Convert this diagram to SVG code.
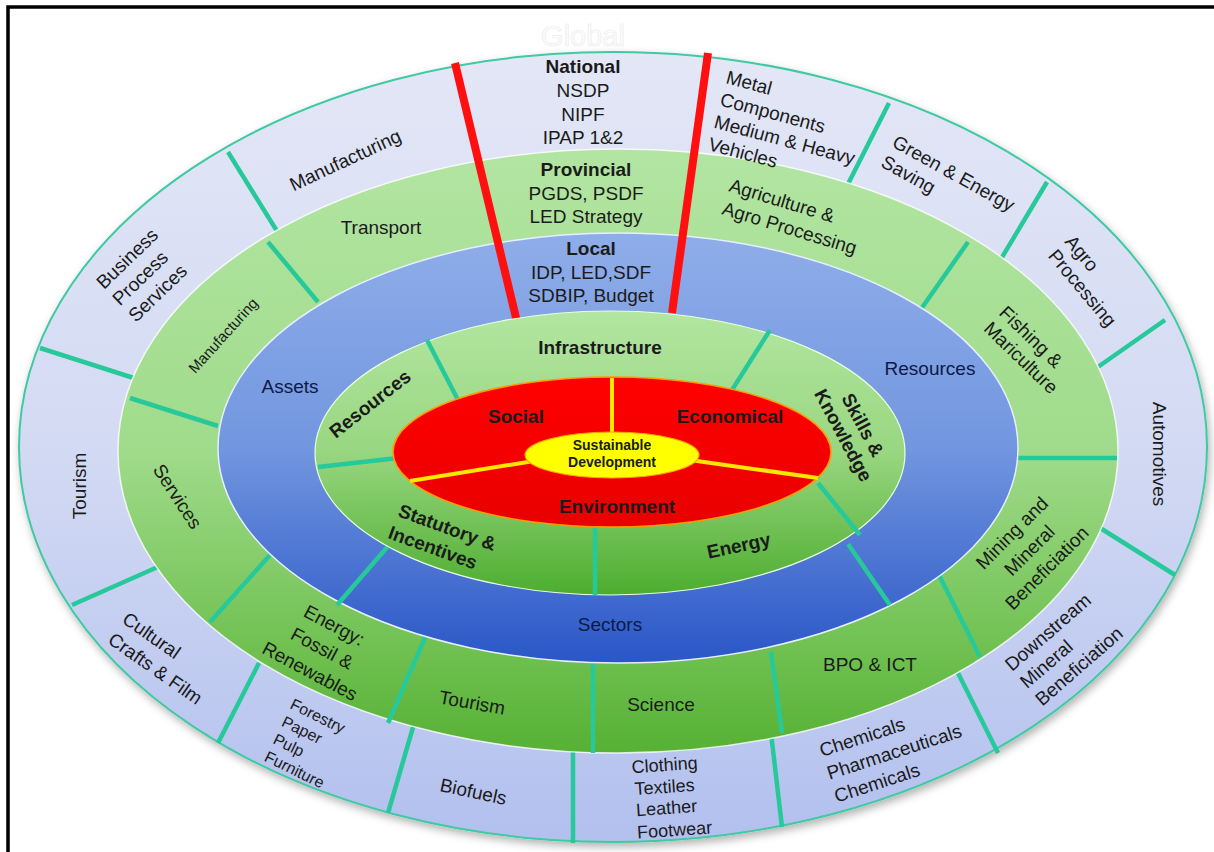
<svg xmlns="http://www.w3.org/2000/svg" width="1214" height="852" viewBox="0 0 1214 852">
<defs>
<linearGradient id="gOuter" x1="0" y1="0" x2="0" y2="1"><stop offset="0" stop-color="#e3e7f6"/><stop offset="0.5" stop-color="#d3daf3"/><stop offset="1" stop-color="#b2c0ee"/></linearGradient>
<linearGradient id="gGreen" x1="0" y1="0" x2="0" y2="1"><stop offset="0" stop-color="#b2e5a2"/><stop offset="0.5" stop-color="#a0db8b"/><stop offset="0.8" stop-color="#74c356"/><stop offset="1" stop-color="#56b134"/></linearGradient>
<linearGradient id="gBlue" x1="0" y1="0" x2="0" y2="1"><stop offset="0" stop-color="#8fade9"/><stop offset="0.5" stop-color="#7296df"/><stop offset="1" stop-color="#2a56c7"/></linearGradient>
<linearGradient id="gInner" x1="0" y1="0" x2="0" y2="1"><stop offset="0" stop-color="#b3e6a1"/><stop offset="0.5" stop-color="#98d680"/><stop offset="1" stop-color="#4dad2f"/></linearGradient>
<linearGradient id="gRed" x1="0" y1="0" x2="0" y2="1"><stop offset="0" stop-color="#ff0000"/><stop offset="1" stop-color="#e80000"/></linearGradient>
<filter id="sh" x="-5%" y="-5%" width="110%" height="115%"><feDropShadow dx="2" dy="4" stdDeviation="4" flood-color="#000" flood-opacity="0.3"/></filter>
<style>
.t{font-family:"Liberation Sans",Arial,sans-serif;font-size:19px;fill:#1b1b1b}
.b{font-weight:bold}
.nv{fill:#0c1a48}
.sep{stroke:#27c99b;stroke-width:4.5;stroke-linecap:butt}
.red{stroke:#ff1010;stroke-width:8;stroke-linecap:butt}
.yl{stroke:#ffe800;stroke-width:4}
</style>
</defs>
<rect x="0" y="0" width="1214" height="852" fill="#ffffff"/>
<rect x="8" y="7" width="1220" height="860" fill="none" stroke="#000" stroke-width="3.5"/>
<text x="583" y="46" text-anchor="middle" style="font-family:'Liberation Sans',Arial,sans-serif;font-size:29px;fill:#fcfcfc;stroke:#ececec;stroke-width:0.7">Global</text>

<g id="outer-ring">
<ellipse cx="613" cy="447" rx="594" ry="395" fill="url(#gOuter)" stroke="#3fc9a2" stroke-width="2" filter="url(#sh)"/>
<line class="sep" x1="228" y1="152" x2="280" y2="236"/>
<line class="sep" x1="40" y1="348" x2="140" y2="380"/>
<line class="sep" x1="72" y1="605" x2="160" y2="566"/>
<line class="sep" x1="218" y1="743" x2="259" y2="663"/>
<line class="sep" x1="388" y1="813" x2="414" y2="724"/>
<line class="sep" x1="573" y1="843" x2="573" y2="750"/>
<line class="sep" x1="782" y1="827" x2="771" y2="733"/>
<line class="sep" x1="998" y1="753" x2="958" y2="673"/>
<line class="sep" x1="1175" y1="575" x2="1097" y2="526"/>
<line class="sep" x1="1165" y1="320" x2="1095" y2="369"/>
<line class="sep" x1="1047" y1="182" x2="998" y2="264"/>
<line class="sep" x1="889" y1="103" x2="848" y2="184"/>
</g>

<g id="green-ring">
<ellipse cx="618" cy="451" rx="500" ry="302" fill="url(#gGreen)" stroke="#ffffff" stroke-width="1.5" stroke-opacity="0.8"/>
<line class="sep" x1="268" y1="242" x2="318" y2="302"/>
<line class="sep" x1="130" y1="398" x2="218" y2="426"/>
<line class="sep" x1="210" y1="622" x2="270" y2="555"/>
<line class="sep" x1="388" y1="723" x2="427" y2="633"/>
<line class="sep" x1="593" y1="753" x2="593" y2="660"/>
<line class="sep" x1="782" y1="733" x2="771" y2="652"/>
<line class="sep" x1="980" y1="657" x2="938" y2="573"/>
<line class="sep" x1="1117" y1="458" x2="1015" y2="458"/>
<line class="sep" x1="968" y1="242" x2="919" y2="312"/>
</g>

<g id="blue-ring">
<ellipse cx="618" cy="448" rx="400" ry="215" fill="url(#gBlue)" stroke="#e6eeff" stroke-width="1.5"/>
<line class="sep" x1="337" y1="605" x2="390" y2="544"/>
<line class="sep" x1="890" y1="605" x2="848" y2="544"/>
<line class="red" x1="455" y1="63" x2="517" y2="322"/>
<line class="red" x1="708" y1="53" x2="672" y2="313"/>
</g>

<g id="inner-ring">
<ellipse cx="610" cy="453" rx="295" ry="142" fill="url(#gInner)" stroke="#e8ffe0" stroke-width="1.2"/>
<line class="sep" x1="427" y1="340" x2="458" y2="400"/>
<line class="sep" x1="318" y1="467" x2="398" y2="458"/>
<line class="sep" x1="595" y1="595" x2="595" y2="520"/>
<line class="sep" x1="860" y1="535" x2="818" y2="483"/>
<line class="sep" x1="770" y1="330" x2="732" y2="390"/>
</g>

<g id="core">
<ellipse cx="612" cy="452" rx="219" ry="75" fill="url(#gRed)" stroke="#ff9a00" stroke-width="1.5"/>
<line class="yl" x1="612" y1="378" x2="612" y2="440"/>
<line class="yl" x1="410" y1="481" x2="540" y2="460"/>
<line class="yl" x1="818" y1="478" x2="690" y2="460"/>
<ellipse cx="612" cy="455" rx="87" ry="23" fill="#ffff00" stroke="#ffa500" stroke-width="1.2"/>
</g>

<g id="labels-outer" class="t">
<text x="583" y="73" text-anchor="middle" class="t b">National</text>
<text x="583" y="97" text-anchor="middle" class="t">NSDP</text>
<text x="583" y="121" text-anchor="middle" class="t">NIPF</text>
<text x="583" y="144" text-anchor="middle" class="t">IPAP 1&amp;2</text>
<text class="t" transform="translate(348,166) rotate(-25)" text-anchor="middle">Manufacturing</text>
<text class="t" transform="translate(104,290) rotate(-44)"><tspan x="0" y="0">Business</tspan><tspan x="0" y="23">Process</tspan><tspan x="0" y="46">Services</tspan></text>
<text class="t" transform="translate(86,486) rotate(-90)" text-anchor="middle">Tourism</text>
<text class="t" transform="translate(121,622) rotate(35)"><tspan x="0" y="0">Cultural</tspan><tspan x="0" y="25">Crafts &amp; Film</tspan></text>
<text class="t" style="font-size:16px" transform="translate(289,708) rotate(26)"><tspan x="0" y="0">Forestry</tspan><tspan x="0" y="19.5">Paper</tspan><tspan x="0" y="39">Pulp</tspan><tspan x="0" y="58.5">Furniture</tspan></text>
<text class="t" transform="translate(472,798) rotate(12)" text-anchor="middle">Biofuels</text>
<g text-anchor="middle">
<text class="t" style="font-size:18px" transform="translate(665,771) rotate(-4)">Clothing</text>
<text class="t" style="font-size:18px" transform="translate(665,793) rotate(-4)">Textiles</text>
<text class="t" style="font-size:18px" transform="translate(667,814) rotate(-4)">Leather</text>
<text class="t" style="font-size:18px" transform="translate(675,836) rotate(-4)">Footwear</text>
</g>
<text class="t" transform="translate(822,757) rotate(-18)"><tspan x="0" y="0">Chemicals</tspan><tspan x="0" y="24">Pharmaceuticals</tspan><tspan x="0" y="48">Chemicals</tspan></text>
<text class="t" transform="translate(1012,672) rotate(-41)"><tspan x="0" y="0">Downstream</tspan><tspan x="0" y="23">Mineral</tspan><tspan x="0" y="46">Beneficiation</tspan></text>
<text class="t" transform="translate(1153,454) rotate(90)" text-anchor="middle">Automotives</text>
<text class="t" transform="translate(1064,242) rotate(50)"><tspan x="0" y="0">Agro</tspan><tspan x="0" y="22">Processing</tspan></text>
<text class="t" transform="translate(891,146) rotate(29)"><tspan x="0" y="0">Green &amp; Energy</tspan><tspan x="0" y="23">Saving</tspan></text>
<text class="t" transform="translate(725,83) rotate(15)"><tspan x="0" y="0">Metal</tspan><tspan x="0" y="23">Components</tspan><tspan x="0" y="46">Medium &amp; Heavy</tspan><tspan x="0" y="69">Vehicles</tspan></text>
</g>

<g id="labels-green">
<text x="586" y="176" text-anchor="middle" class="t b">Provincial</text>
<text x="586" y="200" text-anchor="middle" class="t">PGDS, PSDF</text>
<text x="586" y="223" text-anchor="middle" class="t">LED Strategy</text>
<text x="381" y="234" text-anchor="middle" class="t">Transport</text>
<text class="t" transform="translate(728,191) rotate(17)"><tspan x="0" y="0">Agriculture &amp;</tspan><tspan x="0" y="24">Agro Processing</tspan></text>
<text class="t" style="font-size:15px" transform="translate(227,339) rotate(-48)" text-anchor="middle">Manufacturing</text>
<text class="t" transform="translate(172,500) rotate(57)" text-anchor="middle">Services</text>
<text class="t" transform="translate(319,654) rotate(28)" text-anchor="middle"><tspan x="0" y="-26">Energy:</tspan><tspan x="0" y="0">Fossil &amp;</tspan><tspan x="0" y="26">Renewables</tspan></text>
<text class="t" transform="translate(471,709) rotate(10)" text-anchor="middle">Tourism</text>
<text x="661" y="711" text-anchor="middle" class="t">Science</text>
<text x="870" y="671" text-anchor="middle" class="t">BPO &amp; ICT</text>
<text class="t" transform="translate(1034,555) rotate(-45)" text-anchor="middle"><tspan x="0" y="-24.7">Mining and</tspan><tspan x="0" y="0">Mineral</tspan><tspan x="0" y="24.7">Beneficiation</tspan></text>
<text class="t" transform="translate(998,314) rotate(44)"><tspan x="0" y="0">Fishing &amp;</tspan><tspan x="0" y="22">Mariculture</tspan></text>
</g>

<g id="labels-blue">
<text x="591" y="255" text-anchor="middle" class="t b">Local</text>
<text x="591" y="279" text-anchor="middle" class="t">IDP, LED,SDF</text>
<text x="591" y="302" text-anchor="middle" class="t">SDBIP, Budget</text>
<text x="290" y="393" text-anchor="middle" class="t nv">Assets</text>
<text x="930" y="375" text-anchor="middle" class="t nv">Resources</text>
<text x="610" y="631" text-anchor="middle" class="t nv">Sectors</text>
</g>

<g id="labels-inner">
<text x="600" y="354" text-anchor="middle" class="t b">Infrastructure</text>
<text class="t b" transform="translate(374,409) rotate(-38)" text-anchor="middle">Resources</text>
<text class="t b" transform="translate(857,428) rotate(62)" text-anchor="middle"><tspan x="0" y="0">Skills &amp;</tspan><tspan x="0" y="22">Knowledge</tspan></text>
<text class="t b" transform="translate(397,516) rotate(20)"><tspan x="0" y="0">Statutory &amp;</tspan><tspan x="-2" y="24">Incentives</tspan></text>
<text class="t b" transform="translate(740,552) rotate(-12)" text-anchor="middle">Energy</text>
</g>

<g id="labels-core">
<text x="516" y="423" text-anchor="middle" class="t b">Social</text>
<text x="730" y="423" text-anchor="middle" class="t b">Economical</text>
<text x="617" y="513" text-anchor="middle" class="t b">Environment</text>
<text x="612" y="450" text-anchor="middle" class="t b" style="font-size:14px">Sustainable</text>
<text x="612" y="467" text-anchor="middle" class="t b" style="font-size:14px">Development</text>
</g>
</svg>
